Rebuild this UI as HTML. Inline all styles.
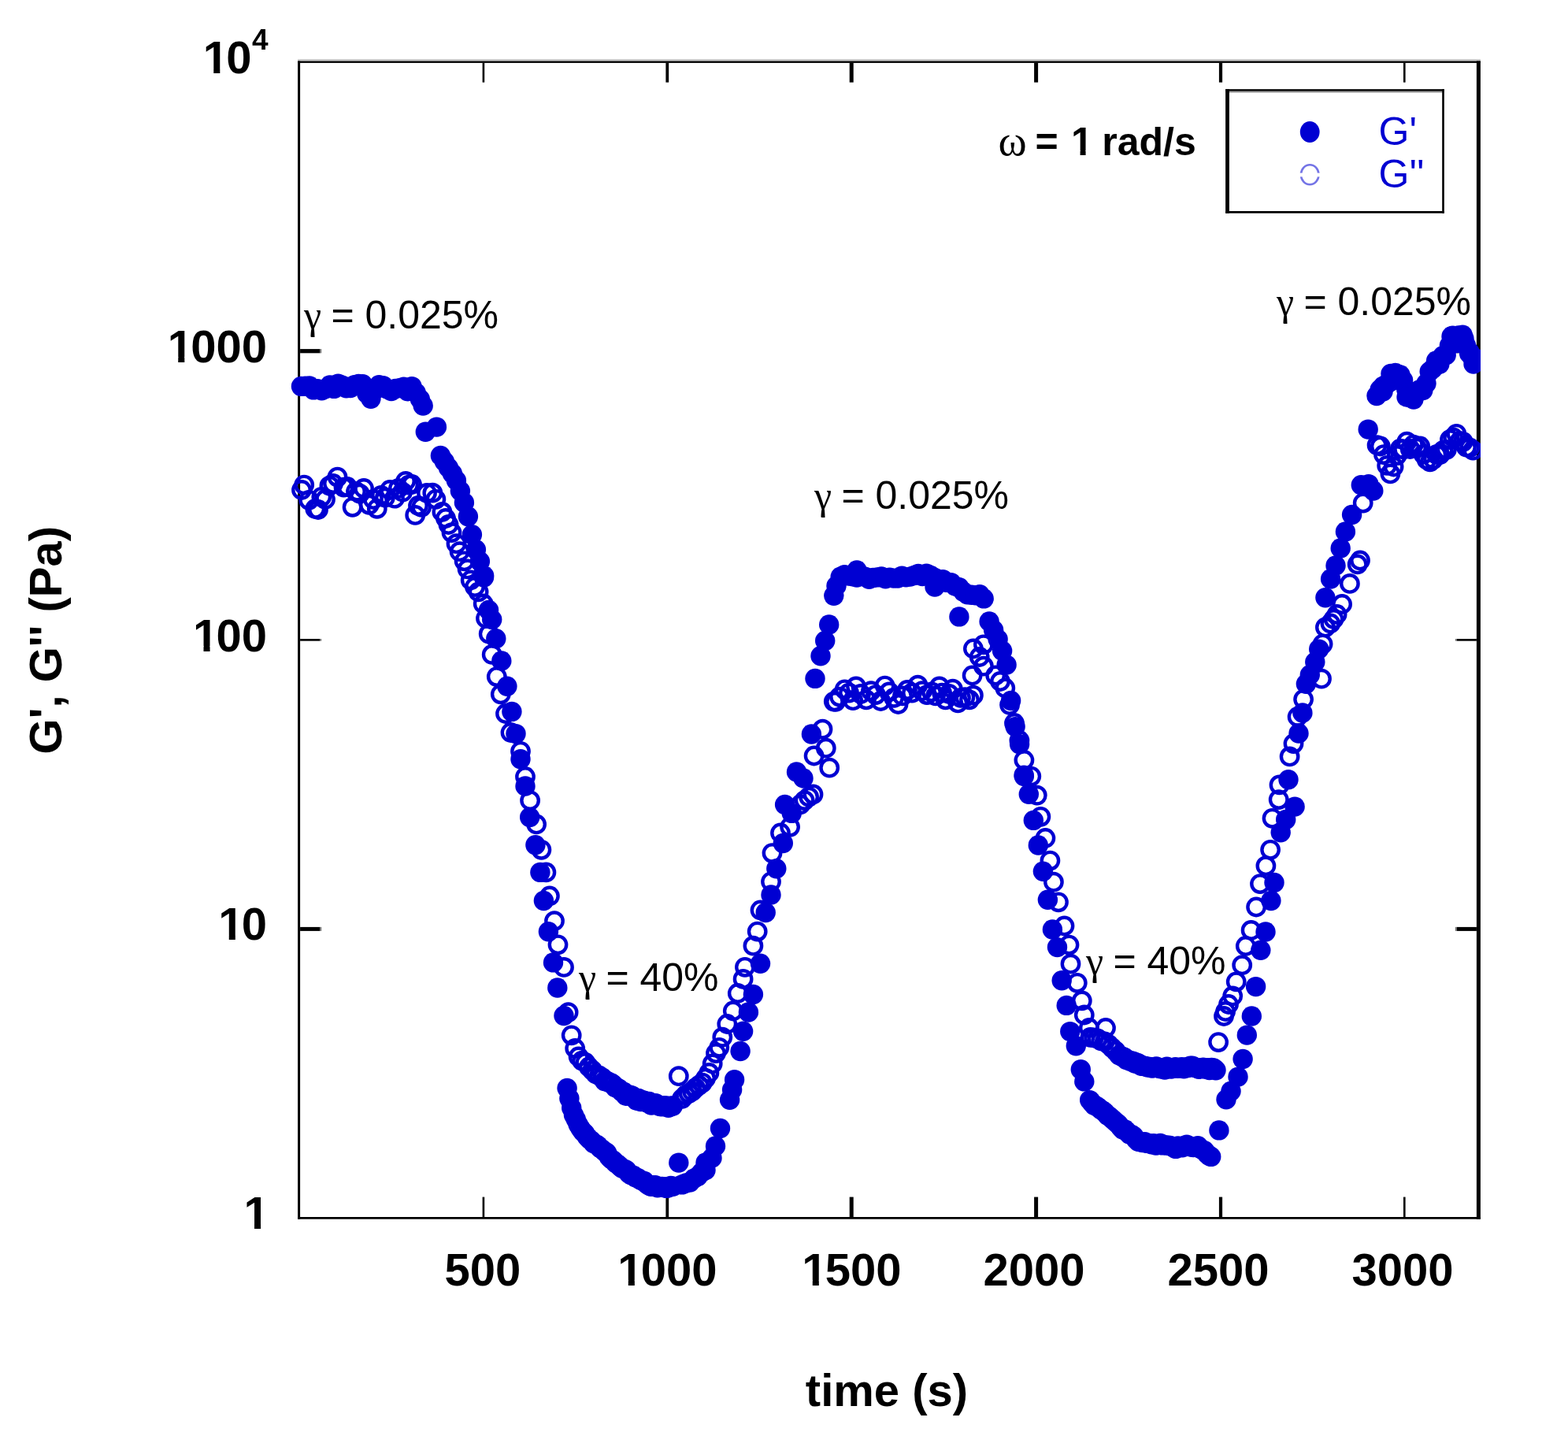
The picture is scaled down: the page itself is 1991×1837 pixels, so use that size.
<!DOCTYPE html>
<html lang="en"><head><meta charset="utf-8"><title>G', G'' (Pa) - time (s)</title>
<style>
html,body{margin:0;padding:0;background:#fff;}
body{width:1991px;height:1837px;overflow:hidden;}
svg{display:block;}
text{white-space:pre;}
.b{font-family:"Liberation Sans",sans-serif;font-weight:bold;font-size:58px;fill:#000;}
.b2{font-family:"Liberation Sans",sans-serif;font-weight:bold;font-size:50px;fill:#000;}
.r{font-family:"Liberation Sans",sans-serif;font-weight:normal;font-size:50px;fill:#000;}
.g{font-family:"Liberation Serif",serif;font-weight:normal;font-size:50px;fill:#000;}
.lg{font-family:"Liberation Sans",sans-serif;font-weight:normal;font-size:50px;fill:#0000d2;}
</style></head><body>
<svg width="1991" height="1837" viewBox="0 0 1991 1837">
<rect x="0" y="0" width="1991" height="1837" fill="#fff"/>
<g id="frame">
<rect x="378.10" y="75.10" width="1501.80" height="2.40" fill="#c8c8c8"/>
<rect x="378.10" y="77.50" width="1501.80" height="2.40" fill="#000"/>
<rect x="378.10" y="1545.00" width="1501.80" height="2.70" fill="#000"/>
<rect x="378.10" y="77.50" width="3.00" height="1470.20" fill="#000"/>
<rect x="1874.90" y="77.50" width="5.00" height="1470.20" fill="#000"/>
<rect x="612.60" y="79.90" width="2.60" height="24.70" fill="#000"/>
<rect x="612.60" y="1519.60" width="2.60" height="25.40" fill="#000"/>
<rect x="845.40" y="79.90" width="3.80" height="24.70" fill="#000"/>
<rect x="845.40" y="1519.60" width="3.80" height="25.40" fill="#000"/>
<rect x="1078.70" y="79.90" width="5.00" height="24.70" fill="#000"/>
<rect x="1078.70" y="1519.60" width="5.00" height="25.40" fill="#000"/>
<rect x="1313.10" y="79.90" width="5.00" height="24.70" fill="#000"/>
<rect x="1313.10" y="1519.60" width="5.00" height="25.40" fill="#000"/>
<rect x="1547.90" y="79.90" width="4.20" height="24.70" fill="#000"/>
<rect x="1547.90" y="1519.60" width="4.20" height="25.40" fill="#000"/>
<rect x="1782.00" y="79.90" width="2.60" height="24.70" fill="#000"/>
<rect x="1782.00" y="1519.60" width="2.60" height="25.40" fill="#000"/>
<rect x="381.10" y="443.10" width="25.40" height="5.20" fill="#000"/>
<rect x="406.50" y="443.10" width="1.70" height="5.20" fill="#777"/>
<rect x="1849.50" y="443.10" width="25.40" height="5.20" fill="#000"/>
<rect x="1847.80" y="443.10" width="1.70" height="5.20" fill="#777"/>
<rect x="381.10" y="811.10" width="25.40" height="2.60" fill="#000"/>
<rect x="406.50" y="811.10" width="1.70" height="2.60" fill="#777"/>
<rect x="1849.50" y="811.10" width="25.40" height="2.60" fill="#000"/>
<rect x="1847.80" y="811.10" width="1.70" height="2.60" fill="#777"/>
<rect x="381.10" y="1176.90" width="25.40" height="5.00" fill="#000"/>
<rect x="406.50" y="1176.90" width="1.70" height="5.00" fill="#777"/>
<rect x="1849.50" y="1176.90" width="25.40" height="5.00" fill="#000"/>
<rect x="1847.80" y="1176.90" width="1.70" height="5.00" fill="#777"/>
</g>
<g id="legend">
<rect x="1556.10" y="113.20" width="277.70" height="2.60" fill="#000"/>
<rect x="1556.10" y="115.80" width="277.70" height="1.80" fill="#999"/>
<rect x="1556.10" y="268.00" width="277.70" height="2.70" fill="#000"/>
<rect x="1556.10" y="113.20" width="4.80" height="157.50" fill="#000"/>
<rect x="1831.20" y="113.20" width="2.60" height="157.50" fill="#000"/>
<ellipse cx="1663.2" cy="167.5" rx="12.4" ry="13.4" fill="#0000d2"/>
<ellipse cx="1663.2" cy="221.8" rx="11.3" ry="12.5" fill="none" stroke="#7474e6" stroke-width="2.6"/>
<rect x="1649.50" y="219.60" width="5.00" height="4.80" fill="#fff"/>
<rect x="1672.00" y="219.60" width="5.00" height="4.80" fill="#fff"/>
<text class="lg" x="1750.5" y="184">G'</text>
<text class="lg" x="1750.5" y="238">G''</text>
</g>
<defs><clipPath id="pc"><rect x="360" y="60" width="1519.9" height="1500"/></clipPath></defs>
<g clip-path="url(#pc)">
<g id="gpp" fill="none" stroke="#0000d2" stroke-width="4.4">
<circle cx="383.0" cy="622.0" r="10.7"/>
<circle cx="386.2" cy="615.6" r="10.7"/>
<circle cx="392.2" cy="634.8" r="10.7"/>
<circle cx="400.3" cy="645.9" r="10.7"/>
<circle cx="404.0" cy="647.0" r="10.7"/>
<circle cx="408.3" cy="630.8" r="10.7"/>
<circle cx="413.0" cy="634.0" r="10.7"/>
<circle cx="418.4" cy="616.7" r="10.7"/>
<circle cx="423.0" cy="614.0" r="10.7"/>
<circle cx="428.5" cy="605.6" r="10.7"/>
<circle cx="436.5" cy="618.6" r="10.7"/>
<circle cx="441.0" cy="618.0" r="10.7"/>
<circle cx="447.6" cy="643.8" r="10.7"/>
<circle cx="452.0" cy="624.0" r="10.7"/>
<circle cx="456.7" cy="626.7" r="10.7"/>
<circle cx="462.0" cy="620.0" r="10.7"/>
<circle cx="468.8" cy="640.8" r="10.7"/>
<circle cx="474.0" cy="634.0" r="10.7"/>
<circle cx="478.8" cy="645.8" r="10.7"/>
<circle cx="484.0" cy="629.0" r="10.7"/>
<circle cx="488.9" cy="631.7" r="10.7"/>
<circle cx="495.0" cy="622.0" r="10.7"/>
<circle cx="501.0" cy="632.7" r="10.7"/>
<circle cx="506.0" cy="620.0" r="10.7"/>
<circle cx="511.1" cy="624.7" r="10.7"/>
<circle cx="515.0" cy="611.0" r="10.7"/>
<circle cx="519.1" cy="615.6" r="10.7"/>
<circle cx="523.0" cy="615.0" r="10.7"/>
<circle cx="527.2" cy="653.9" r="10.7"/>
<circle cx="531.0" cy="642.0" r="10.7"/>
<circle cx="535.2" cy="643.8" r="10.7"/>
<circle cx="542.0" cy="626.0" r="10.7"/>
<circle cx="549.3" cy="625.7" r="10.7"/>
<circle cx="553.4" cy="633.8" r="10.7"/>
<circle cx="561.4" cy="649.9" r="10.7"/>
<circle cx="566.0" cy="658.0" r="10.7"/>
<circle cx="569.5" cy="666.0" r="10.7"/>
<circle cx="573.5" cy="676.1" r="10.7"/>
<circle cx="579.5" cy="690.2" r="10.7"/>
<circle cx="583.6" cy="700.2" r="10.7"/>
<circle cx="589.6" cy="712.3" r="10.7"/>
<circle cx="593.6" cy="722.4" r="10.7"/>
<circle cx="597.7" cy="736.5" r="10.7"/>
<circle cx="603.0" cy="745.0" r="10.7"/>
<circle cx="607.6" cy="751.4" r="10.7"/>
<circle cx="613.7" cy="766.5" r="10.7"/>
<circle cx="617.0" cy="785.0" r="10.7"/>
<circle cx="620.7" cy="804.7" r="10.7"/>
<circle cx="624.7" cy="830.9" r="10.7"/>
<circle cx="630.8" cy="859.1" r="10.7"/>
<circle cx="635.8" cy="881.3" r="10.7"/>
<circle cx="642.0" cy="906.0" r="10.7"/>
<circle cx="648.5" cy="930.0" r="10.7"/>
<circle cx="661.0" cy="953.8" r="10.7"/>
<circle cx="667.0" cy="986.0" r="10.7"/>
<circle cx="673.1" cy="1016.2" r="10.7"/>
<circle cx="681.1" cy="1046.4" r="10.7"/>
<circle cx="687.4" cy="1078.8" r="10.7"/>
<circle cx="693.4" cy="1107.4" r="10.7"/>
<circle cx="697.9" cy="1137.5" r="10.7"/>
<circle cx="704.0" cy="1169.2" r="10.7"/>
<circle cx="708.5" cy="1199.3" r="10.7"/>
<circle cx="716.0" cy="1227.9" r="10.7"/>
<circle cx="721.6" cy="1285.2" r="10.7"/>
<circle cx="725.7" cy="1314.3" r="10.7"/>
<circle cx="730.2" cy="1331.0" r="10.7"/>
<circle cx="734.6" cy="1341.5" r="10.7"/>
<circle cx="739.0" cy="1346.6" r="10.7"/>
<circle cx="743.4" cy="1349.0" r="10.7"/>
<circle cx="747.8" cy="1354.5" r="10.7"/>
<circle cx="752.2" cy="1358.9" r="10.7"/>
<circle cx="756.6" cy="1363.4" r="10.7"/>
<circle cx="761.0" cy="1365.5" r="10.7"/>
<circle cx="765.0" cy="1368.3" r="10.7"/>
<circle cx="767.7" cy="1372.3" r="10.7"/>
<circle cx="770.4" cy="1372.3" r="10.7"/>
<circle cx="773.1" cy="1374.2" r="10.7"/>
<circle cx="775.8" cy="1374.8" r="10.7"/>
<circle cx="778.5" cy="1376.8" r="10.7"/>
<circle cx="781.2" cy="1380.3" r="10.7"/>
<circle cx="783.9" cy="1381.2" r="10.7"/>
<circle cx="786.6" cy="1383.0" r="10.7"/>
<circle cx="789.3" cy="1385.7" r="10.7"/>
<circle cx="792.0" cy="1386.4" r="10.7"/>
<circle cx="794.7" cy="1391.0" r="10.7"/>
<circle cx="797.4" cy="1390.9" r="10.7"/>
<circle cx="800.1" cy="1390.5" r="10.7"/>
<circle cx="802.8" cy="1391.5" r="10.7"/>
<circle cx="805.5" cy="1393.7" r="10.7"/>
<circle cx="808.2" cy="1397.0" r="10.7"/>
<circle cx="810.9" cy="1394.7" r="10.7"/>
<circle cx="813.6" cy="1398.3" r="10.7"/>
<circle cx="816.3" cy="1397.0" r="10.7"/>
<circle cx="819.0" cy="1398.0" r="10.7"/>
<circle cx="821.7" cy="1399.8" r="10.7"/>
<circle cx="824.4" cy="1398.7" r="10.7"/>
<circle cx="827.1" cy="1402.8" r="10.7"/>
<circle cx="829.8" cy="1401.5" r="10.7"/>
<circle cx="832.5" cy="1400.9" r="10.7"/>
<circle cx="835.2" cy="1402.9" r="10.7"/>
<circle cx="837.9" cy="1404.4" r="10.7"/>
<circle cx="840.6" cy="1404.6" r="10.7"/>
<circle cx="843.3" cy="1403.9" r="10.7"/>
<circle cx="846.0" cy="1404.2" r="10.7"/>
<circle cx="848.7" cy="1406.1" r="10.7"/>
<circle cx="851.4" cy="1404.3" r="10.7"/>
<circle cx="854.1" cy="1404.1" r="10.7"/>
<circle cx="861.8" cy="1366.2" r="10.7"/>
<circle cx="866.0" cy="1394.9" r="10.7"/>
<circle cx="870.3" cy="1390.5" r="10.7"/>
<circle cx="874.6" cy="1388.1" r="10.7"/>
<circle cx="878.9" cy="1385.5" r="10.7"/>
<circle cx="883.2" cy="1381.1" r="10.7"/>
<circle cx="887.5" cy="1377.9" r="10.7"/>
<circle cx="891.8" cy="1374.6" r="10.7"/>
<circle cx="896.1" cy="1368.8" r="10.7"/>
<circle cx="900.4" cy="1361.9" r="10.7"/>
<circle cx="904.7" cy="1350.4" r="10.7"/>
<circle cx="909.0" cy="1337.1" r="10.7"/>
<circle cx="913.3" cy="1329.8" r="10.7"/>
<circle cx="917.3" cy="1316.7" r="10.7"/>
<circle cx="923.3" cy="1300.0" r="10.7"/>
<circle cx="930.8" cy="1283.5" r="10.7"/>
<circle cx="936.8" cy="1261.0" r="10.7"/>
<circle cx="943.6" cy="1242.9" r="10.7"/>
<circle cx="945.9" cy="1227.8" r="10.7"/>
<circle cx="956.4" cy="1200.7" r="10.7"/>
<circle cx="961.7" cy="1182.6" r="10.7"/>
<circle cx="965.5" cy="1155.5" r="10.7"/>
<circle cx="979.0" cy="1119.3" r="10.7"/>
<circle cx="980.5" cy="1083.1" r="10.7"/>
<circle cx="991.0" cy="1057.5" r="10.7"/>
<circle cx="1003.1" cy="1049.8" r="10.7"/>
<circle cx="1016.2" cy="1021.5" r="10.7"/>
<circle cx="1021.6" cy="1016.1" r="10.7"/>
<circle cx="1027.1" cy="1011.7" r="10.7"/>
<circle cx="1032.5" cy="1008.4" r="10.7"/>
<circle cx="1033.6" cy="959.5" r="10.7"/>
<circle cx="1053.2" cy="974.7" r="10.7"/>
<circle cx="1048.8" cy="949.7" r="10.7"/>
<circle cx="1044.5" cy="925.7" r="10.7"/>
<circle cx="1058.8" cy="890.6" r="10.7"/>
<circle cx="1061.0" cy="890.8" r="10.7"/>
<circle cx="1066.0" cy="884.6" r="10.7"/>
<circle cx="1072.6" cy="875.3" r="10.7"/>
<circle cx="1078.0" cy="879.6" r="10.7"/>
<circle cx="1083.1" cy="889.2" r="10.7"/>
<circle cx="1087.0" cy="871.4" r="10.7"/>
<circle cx="1093.0" cy="880.9" r="10.7"/>
<circle cx="1100.0" cy="888.3" r="10.7"/>
<circle cx="1106.0" cy="877.2" r="10.7"/>
<circle cx="1112.0" cy="882.1" r="10.7"/>
<circle cx="1118.3" cy="890.0" r="10.7"/>
<circle cx="1123.6" cy="870.6" r="10.7"/>
<circle cx="1129.0" cy="878.4" r="10.7"/>
<circle cx="1135.0" cy="885.8" r="10.7"/>
<circle cx="1140.5" cy="894.0" r="10.7"/>
<circle cx="1146.0" cy="883.4" r="10.7"/>
<circle cx="1152.0" cy="875.9" r="10.7"/>
<circle cx="1158.0" cy="879.6" r="10.7"/>
<circle cx="1165.4" cy="869.7" r="10.7"/>
<circle cx="1171.0" cy="877.2" r="10.7"/>
<circle cx="1177.0" cy="882.1" r="10.7"/>
<circle cx="1183.0" cy="878.4" r="10.7"/>
<circle cx="1188.0" cy="883.4" r="10.7"/>
<circle cx="1192.8" cy="871.4" r="10.7"/>
<circle cx="1196.0" cy="879.6" r="10.7"/>
<circle cx="1200.6" cy="888.3" r="10.7"/>
<circle cx="1205.0" cy="880.9" r="10.7"/>
<circle cx="1209.8" cy="874.7" r="10.7"/>
<circle cx="1216.3" cy="892.4" r="10.7"/>
<circle cx="1220.0" cy="885.8" r="10.7"/>
<circle cx="1225.4" cy="885.2" r="10.7"/>
<circle cx="1231.0" cy="888.3" r="10.7"/>
<circle cx="1235.9" cy="882.7" r="10.7"/>
<circle cx="1234.6" cy="857.5" r="10.7"/>
<circle cx="1235.9" cy="823.5" r="10.7"/>
<circle cx="1248.9" cy="818.3" r="10.7"/>
<circle cx="1243.7" cy="834.0" r="10.7"/>
<circle cx="1248.9" cy="845.7" r="10.7"/>
<circle cx="1264.2" cy="857.4" r="10.7"/>
<circle cx="1270.0" cy="865.0" r="10.7"/>
<circle cx="1276.3" cy="873.5" r="10.7"/>
<circle cx="1282.0" cy="895.0" r="10.7"/>
<circle cx="1288.0" cy="918.0" r="10.7"/>
<circle cx="1294.4" cy="940.0" r="10.7"/>
<circle cx="1300.4" cy="965.0" r="10.7"/>
<circle cx="1309.3" cy="985.6" r="10.7"/>
<circle cx="1316.8" cy="1009.7" r="10.7"/>
<circle cx="1321.4" cy="1036.8" r="10.7"/>
<circle cx="1327.4" cy="1064.0" r="10.7"/>
<circle cx="1333.4" cy="1092.6" r="10.7"/>
<circle cx="1337.9" cy="1119.7" r="10.7"/>
<circle cx="1344.0" cy="1145.3" r="10.7"/>
<circle cx="1351.5" cy="1175.5" r="10.7"/>
<circle cx="1357.5" cy="1199.6" r="10.7"/>
<circle cx="1359.5" cy="1223.7" r="10.7"/>
<circle cx="1367.8" cy="1247.8" r="10.7"/>
<circle cx="1373.8" cy="1270.4" r="10.7"/>
<circle cx="1376.8" cy="1288.5" r="10.7"/>
<circle cx="1382.9" cy="1305.0" r="10.7"/>
<circle cx="1404.0" cy="1305.0" r="10.7"/>
<circle cx="1384.4" cy="1316.9" r="10.7"/>
<circle cx="1389.0" cy="1317.5" r="10.7"/>
<circle cx="1393.6" cy="1318.4" r="10.7"/>
<circle cx="1398.2" cy="1321.3" r="10.7"/>
<circle cx="1402.8" cy="1322.5" r="10.7"/>
<circle cx="1407.4" cy="1325.7" r="10.7"/>
<circle cx="1412.0" cy="1330.1" r="10.7"/>
<circle cx="1416.6" cy="1334.3" r="10.7"/>
<circle cx="1421.2" cy="1339.7" r="10.7"/>
<circle cx="1425.0" cy="1341.5" r="10.7"/>
<circle cx="1427.7" cy="1342.6" r="10.7"/>
<circle cx="1430.4" cy="1345.3" r="10.7"/>
<circle cx="1433.1" cy="1345.8" r="10.7"/>
<circle cx="1435.8" cy="1347.3" r="10.7"/>
<circle cx="1438.5" cy="1347.4" r="10.7"/>
<circle cx="1441.2" cy="1350.0" r="10.7"/>
<circle cx="1443.9" cy="1349.4" r="10.7"/>
<circle cx="1446.6" cy="1350.9" r="10.7"/>
<circle cx="1449.3" cy="1353.1" r="10.7"/>
<circle cx="1452.0" cy="1353.4" r="10.7"/>
<circle cx="1454.7" cy="1353.6" r="10.7"/>
<circle cx="1457.4" cy="1354.8" r="10.7"/>
<circle cx="1460.1" cy="1354.7" r="10.7"/>
<circle cx="1462.8" cy="1355.9" r="10.7"/>
<circle cx="1465.5" cy="1355.3" r="10.7"/>
<circle cx="1468.2" cy="1354.1" r="10.7"/>
<circle cx="1470.9" cy="1356.0" r="10.7"/>
<circle cx="1473.6" cy="1356.6" r="10.7"/>
<circle cx="1476.3" cy="1356.3" r="10.7"/>
<circle cx="1479.0" cy="1357.8" r="10.7"/>
<circle cx="1481.7" cy="1354.5" r="10.7"/>
<circle cx="1484.4" cy="1355.7" r="10.7"/>
<circle cx="1487.1" cy="1356.8" r="10.7"/>
<circle cx="1489.8" cy="1356.0" r="10.7"/>
<circle cx="1492.5" cy="1355.0" r="10.7"/>
<circle cx="1495.2" cy="1356.2" r="10.7"/>
<circle cx="1497.9" cy="1355.6" r="10.7"/>
<circle cx="1500.6" cy="1354.9" r="10.7"/>
<circle cx="1503.3" cy="1356.7" r="10.7"/>
<circle cx="1506.0" cy="1355.2" r="10.7"/>
<circle cx="1508.7" cy="1355.4" r="10.7"/>
<circle cx="1511.4" cy="1353.4" r="10.7"/>
<circle cx="1514.1" cy="1353.3" r="10.7"/>
<circle cx="1516.8" cy="1355.2" r="10.7"/>
<circle cx="1519.5" cy="1355.6" r="10.7"/>
<circle cx="1522.2" cy="1357.1" r="10.7"/>
<circle cx="1524.9" cy="1355.8" r="10.7"/>
<circle cx="1527.6" cy="1355.3" r="10.7"/>
<circle cx="1530.3" cy="1356.9" r="10.7"/>
<circle cx="1533.0" cy="1356.0" r="10.7"/>
<circle cx="1535.7" cy="1358.4" r="10.7"/>
<circle cx="1538.4" cy="1355.6" r="10.7"/>
<circle cx="1541.1" cy="1356.2" r="10.7"/>
<circle cx="1543.8" cy="1358.6" r="10.7"/>
<circle cx="1547.1" cy="1323.1" r="10.7"/>
<circle cx="1554.0" cy="1290.0" r="10.7"/>
<circle cx="1556.1" cy="1284.0" r="10.7"/>
<circle cx="1560.0" cy="1275.0" r="10.7"/>
<circle cx="1565.2" cy="1264.4" r="10.7"/>
<circle cx="1569.7" cy="1246.3" r="10.7"/>
<circle cx="1577.2" cy="1225.2" r="10.7"/>
<circle cx="1581.8" cy="1201.0" r="10.7"/>
<circle cx="1588.6" cy="1180.9" r="10.7"/>
<circle cx="1595.1" cy="1151.5" r="10.7"/>
<circle cx="1600.0" cy="1122.1" r="10.7"/>
<circle cx="1607.4" cy="1099.2" r="10.7"/>
<circle cx="1613.1" cy="1078.8" r="10.7"/>
<circle cx="1615.5" cy="1038.8" r="10.7"/>
<circle cx="1623.7" cy="1015.1" r="10.7"/>
<circle cx="1624.5" cy="996.4" r="10.7"/>
<circle cx="1637.6" cy="960.4" r="10.7"/>
<circle cx="1642.5" cy="944.1" r="10.7"/>
<circle cx="1647.6" cy="910.0" r="10.7"/>
<circle cx="1655.1" cy="887.8" r="10.7"/>
<circle cx="1678.0" cy="861.7" r="10.7"/>
<circle cx="1679.6" cy="817.6" r="10.7"/>
<circle cx="1682.9" cy="796.4" r="10.7"/>
<circle cx="1689.4" cy="791.5" r="10.7"/>
<circle cx="1693.5" cy="786.0" r="10.7"/>
<circle cx="1697.6" cy="780.0" r="10.7"/>
<circle cx="1704.1" cy="767.0" r="10.7"/>
<circle cx="1713.9" cy="740.9" r="10.7"/>
<circle cx="1723.7" cy="716.4" r="10.7"/>
<circle cx="1727.0" cy="711.5" r="10.7"/>
<circle cx="1730.7" cy="638.6" r="10.7"/>
<circle cx="1748.6" cy="565.2" r="10.7"/>
<circle cx="1752.8" cy="566.5" r="10.7"/>
<circle cx="1757.0" cy="577.1" r="10.7"/>
<circle cx="1761.2" cy="590.9" r="10.7"/>
<circle cx="1765.4" cy="601.4" r="10.7"/>
<circle cx="1769.6" cy="592.5" r="10.7"/>
<circle cx="1773.8" cy="578.1" r="10.7"/>
<circle cx="1778.0" cy="569.6" r="10.7"/>
<circle cx="1782.2" cy="570.3" r="10.7"/>
<circle cx="1786.4" cy="560.7" r="10.7"/>
<circle cx="1790.6" cy="570.0" r="10.7"/>
<circle cx="1794.8" cy="564.6" r="10.7"/>
<circle cx="1799.0" cy="568.7" r="10.7"/>
<circle cx="1803.2" cy="566.5" r="10.7"/>
<circle cx="1807.4" cy="576.6" r="10.7"/>
<circle cx="1811.6" cy="583.4" r="10.7"/>
<circle cx="1815.8" cy="586.3" r="10.7"/>
<circle cx="1820.0" cy="583.1" r="10.7"/>
<circle cx="1824.2" cy="576.9" r="10.7"/>
<circle cx="1828.4" cy="577.2" r="10.7"/>
<circle cx="1832.6" cy="571.7" r="10.7"/>
<circle cx="1836.8" cy="571.0" r="10.7"/>
<circle cx="1841.0" cy="558.1" r="10.7"/>
<circle cx="1845.2" cy="555.3" r="10.7"/>
<circle cx="1849.4" cy="550.8" r="10.7"/>
<circle cx="1853.6" cy="559.8" r="10.7"/>
<circle cx="1857.8" cy="560.8" r="10.7"/>
<circle cx="1862.0" cy="567.7" r="10.7"/>
<circle cx="1866.2" cy="568.4" r="10.7"/>
<circle cx="1870.4" cy="571.7" r="10.7"/>
</g>
<g id="gp" fill="#0000d2" stroke="none">
<circle cx="382.5" cy="490.4" r="12.7"/>
<circle cx="387.7" cy="490.3" r="12.7"/>
<circle cx="392.9" cy="490.0" r="12.7"/>
<circle cx="398.1" cy="494.9" r="12.7"/>
<circle cx="403.3" cy="493.6" r="12.7"/>
<circle cx="408.5" cy="495.8" r="12.7"/>
<circle cx="413.7" cy="493.6" r="12.7"/>
<circle cx="418.9" cy="489.0" r="12.7"/>
<circle cx="424.1" cy="493.4" r="12.7"/>
<circle cx="429.3" cy="487.3" r="12.7"/>
<circle cx="434.5" cy="489.1" r="12.7"/>
<circle cx="439.7" cy="492.8" r="12.7"/>
<circle cx="444.9" cy="492.6" r="12.7"/>
<circle cx="450.1" cy="488.7" r="12.7"/>
<circle cx="455.3" cy="487.5" r="12.7"/>
<circle cx="460.5" cy="487.8" r="12.7"/>
<circle cx="465.7" cy="499.4" r="12.7"/>
<circle cx="470.9" cy="506.2" r="12.7"/>
<circle cx="476.1" cy="494.8" r="12.7"/>
<circle cx="481.3" cy="488.7" r="12.7"/>
<circle cx="486.5" cy="489.6" r="12.7"/>
<circle cx="491.7" cy="493.9" r="12.7"/>
<circle cx="496.9" cy="496.6" r="12.7"/>
<circle cx="502.1" cy="493.5" r="12.7"/>
<circle cx="507.3" cy="492.6" r="12.7"/>
<circle cx="512.5" cy="491.3" r="12.7"/>
<circle cx="517.7" cy="496.8" r="12.7"/>
<circle cx="522.9" cy="490.6" r="12.7"/>
<circle cx="528.1" cy="498.6" r="12.7"/>
<circle cx="533.3" cy="506.7" r="12.7"/>
<circle cx="537.2" cy="515.0" r="12.7"/>
<circle cx="540.3" cy="548.2" r="12.7"/>
<circle cx="554.4" cy="542.1" r="12.7"/>
<circle cx="559.4" cy="578.4" r="12.7"/>
<circle cx="564.4" cy="586.0" r="12.7"/>
<circle cx="569.4" cy="593.7" r="12.7"/>
<circle cx="574.4" cy="601.3" r="12.7"/>
<circle cx="579.4" cy="610.0" r="12.7"/>
<circle cx="584.4" cy="623.3" r="12.7"/>
<circle cx="589.4" cy="638.1" r="12.7"/>
<circle cx="594.4" cy="655.8" r="12.7"/>
<circle cx="599.4" cy="678.7" r="12.7"/>
<circle cx="604.4" cy="697.7" r="12.7"/>
<circle cx="609.4" cy="712.8" r="12.7"/>
<circle cx="614.4" cy="732.9" r="12.7"/>
<circle cx="614.7" cy="731.0" r="12.7"/>
<circle cx="620.5" cy="774.5" r="12.7"/>
<circle cx="624.7" cy="786.6" r="12.7"/>
<circle cx="629.8" cy="810.8" r="12.7"/>
<circle cx="636.8" cy="839.0" r="12.7"/>
<circle cx="643.9" cy="871.2" r="12.7"/>
<circle cx="649.9" cy="903.4" r="12.7"/>
<circle cx="655.0" cy="931.6" r="12.7"/>
<circle cx="661.0" cy="963.8" r="12.7"/>
<circle cx="667.0" cy="998.0" r="12.7"/>
<circle cx="672.7" cy="1037.5" r="12.7"/>
<circle cx="679.9" cy="1072.7" r="12.7"/>
<circle cx="685.9" cy="1107.4" r="12.7"/>
<circle cx="690.4" cy="1143.5" r="12.7"/>
<circle cx="696.4" cy="1182.7" r="12.7"/>
<circle cx="702.5" cy="1221.9" r="12.7"/>
<circle cx="707.8" cy="1254.0" r="12.7"/>
<circle cx="716.0" cy="1289.5" r="12.7"/>
<circle cx="720.1" cy="1381.4" r="12.7"/>
<circle cx="722.9" cy="1394.4" r="12.7"/>
<circle cx="725.7" cy="1406.4" r="12.7"/>
<circle cx="728.5" cy="1415.6" r="12.7"/>
<circle cx="731.3" cy="1420.9" r="12.7"/>
<circle cx="734.1" cy="1427.4" r="12.7"/>
<circle cx="736.9" cy="1432.2" r="12.7"/>
<circle cx="739.7" cy="1436.3" r="12.7"/>
<circle cx="742.5" cy="1438.8" r="12.7"/>
<circle cx="745.3" cy="1443.0" r="12.7"/>
<circle cx="748.1" cy="1446.0" r="12.7"/>
<circle cx="750.9" cy="1448.1" r="12.7"/>
<circle cx="753.7" cy="1451.5" r="12.7"/>
<circle cx="756.5" cy="1452.6" r="12.7"/>
<circle cx="759.3" cy="1454.2" r="12.7"/>
<circle cx="762.1" cy="1457.6" r="12.7"/>
<circle cx="764.9" cy="1459.4" r="12.7"/>
<circle cx="767.7" cy="1461.9" r="12.7"/>
<circle cx="770.5" cy="1463.4" r="12.7"/>
<circle cx="773.3" cy="1468.7" r="12.7"/>
<circle cx="776.1" cy="1471.6" r="12.7"/>
<circle cx="778.9" cy="1473.5" r="12.7"/>
<circle cx="781.7" cy="1476.5" r="12.7"/>
<circle cx="784.5" cy="1478.3" r="12.7"/>
<circle cx="787.3" cy="1480.9" r="12.7"/>
<circle cx="790.1" cy="1483.3" r="12.7"/>
<circle cx="792.9" cy="1484.1" r="12.7"/>
<circle cx="795.7" cy="1485.8" r="12.7"/>
<circle cx="798.5" cy="1489.8" r="12.7"/>
<circle cx="801.3" cy="1491.7" r="12.7"/>
<circle cx="804.1" cy="1492.3" r="12.7"/>
<circle cx="806.9" cy="1494.8" r="12.7"/>
<circle cx="809.7" cy="1495.5" r="12.7"/>
<circle cx="812.5" cy="1497.4" r="12.7"/>
<circle cx="815.3" cy="1499.0" r="12.7"/>
<circle cx="818.1" cy="1499.5" r="12.7"/>
<circle cx="820.9" cy="1502.8" r="12.7"/>
<circle cx="823.7" cy="1504.8" r="12.7"/>
<circle cx="826.5" cy="1506.3" r="12.7"/>
<circle cx="829.3" cy="1504.8" r="12.7"/>
<circle cx="832.1" cy="1504.7" r="12.7"/>
<circle cx="834.9" cy="1507.7" r="12.7"/>
<circle cx="837.7" cy="1507.1" r="12.7"/>
<circle cx="840.5" cy="1506.5" r="12.7"/>
<circle cx="843.3" cy="1506.7" r="12.7"/>
<circle cx="846.1" cy="1508.4" r="12.7"/>
<circle cx="848.9" cy="1507.7" r="12.7"/>
<circle cx="851.7" cy="1505.4" r="12.7"/>
<circle cx="854.5" cy="1506.2" r="12.7"/>
<circle cx="861.8" cy="1476.1" r="12.7"/>
<circle cx="866.0" cy="1503.9" r="12.7"/>
<circle cx="871.0" cy="1502.0" r="12.7"/>
<circle cx="876.0" cy="1500.9" r="12.7"/>
<circle cx="881.0" cy="1496.3" r="12.7"/>
<circle cx="886.0" cy="1493.5" r="12.7"/>
<circle cx="891.0" cy="1488.3" r="12.7"/>
<circle cx="896.0" cy="1485.4" r="12.7"/>
<circle cx="896.0" cy="1476.0" r="12.7"/>
<circle cx="904.0" cy="1470.0" r="12.7"/>
<circle cx="908.5" cy="1455.0" r="12.7"/>
<circle cx="914.5" cy="1432.5" r="12.7"/>
<circle cx="926.6" cy="1396.3" r="12.7"/>
<circle cx="929.6" cy="1383.5" r="12.7"/>
<circle cx="932.6" cy="1370.7" r="12.7"/>
<circle cx="940.1" cy="1334.5" r="12.7"/>
<circle cx="943.6" cy="1309.2" r="12.7"/>
<circle cx="950.4" cy="1285.0" r="12.7"/>
<circle cx="956.4" cy="1262.4" r="12.7"/>
<circle cx="965.5" cy="1223.3" r="12.7"/>
<circle cx="972.2" cy="1158.5" r="12.7"/>
<circle cx="979.0" cy="1135.9" r="12.7"/>
<circle cx="985.8" cy="1102.7" r="12.7"/>
<circle cx="994.3" cy="1070.5" r="12.7"/>
<circle cx="996.6" cy="1021.5" r="12.7"/>
<circle cx="1005.3" cy="1032.4" r="12.7"/>
<circle cx="1011.5" cy="980.0" r="12.7"/>
<circle cx="1020.0" cy="988.0" r="12.7"/>
<circle cx="1030.4" cy="932.0" r="12.7"/>
<circle cx="1035.0" cy="861.4" r="12.7"/>
<circle cx="1042.0" cy="832.8" r="12.7"/>
<circle cx="1047.7" cy="813.5" r="12.7"/>
<circle cx="1052.7" cy="792.9" r="12.7"/>
<circle cx="1058.8" cy="756.3" r="12.7"/>
<circle cx="1062.0" cy="743.8" r="12.7"/>
<circle cx="1067.2" cy="732.3" r="12.7"/>
<circle cx="1072.4" cy="729.6" r="12.7"/>
<circle cx="1077.6" cy="731.0" r="12.7"/>
<circle cx="1082.8" cy="731.8" r="12.7"/>
<circle cx="1088.0" cy="733.0" r="12.7"/>
<circle cx="1093.2" cy="730.7" r="12.7"/>
<circle cx="1098.4" cy="732.2" r="12.7"/>
<circle cx="1103.6" cy="735.2" r="12.7"/>
<circle cx="1108.8" cy="733.4" r="12.7"/>
<circle cx="1114.0" cy="732.9" r="12.7"/>
<circle cx="1119.2" cy="731.9" r="12.7"/>
<circle cx="1124.4" cy="734.7" r="12.7"/>
<circle cx="1129.6" cy="733.3" r="12.7"/>
<circle cx="1134.8" cy="734.1" r="12.7"/>
<circle cx="1140.0" cy="734.1" r="12.7"/>
<circle cx="1145.2" cy="731.1" r="12.7"/>
<circle cx="1150.4" cy="732.7" r="12.7"/>
<circle cx="1155.6" cy="732.1" r="12.7"/>
<circle cx="1160.8" cy="730.5" r="12.7"/>
<circle cx="1166.0" cy="728.5" r="12.7"/>
<circle cx="1171.2" cy="731.6" r="12.7"/>
<circle cx="1176.4" cy="728.3" r="12.7"/>
<circle cx="1181.6" cy="730.4" r="12.7"/>
<circle cx="1186.8" cy="733.4" r="12.7"/>
<circle cx="1192.0" cy="739.3" r="12.7"/>
<circle cx="1197.2" cy="735.6" r="12.7"/>
<circle cx="1202.4" cy="739.4" r="12.7"/>
<circle cx="1207.6" cy="739.6" r="12.7"/>
<circle cx="1212.8" cy="744.1" r="12.7"/>
<circle cx="1218.0" cy="745.8" r="12.7"/>
<circle cx="1223.2" cy="751.3" r="12.7"/>
<circle cx="1228.4" cy="754.7" r="12.7"/>
<circle cx="1233.6" cy="755.3" r="12.7"/>
<circle cx="1238.8" cy="755.7" r="12.7"/>
<circle cx="1244.0" cy="754.7" r="12.7"/>
<circle cx="1249.2" cy="759.9" r="12.7"/>
<circle cx="1217.9" cy="782.9" r="12.7"/>
<circle cx="1187.0" cy="745.0" r="12.7"/>
<circle cx="1088.0" cy="724.0" r="12.7"/>
<circle cx="1256.1" cy="788.9" r="12.7"/>
<circle cx="1261.6" cy="799.8" r="12.7"/>
<circle cx="1267.1" cy="811.4" r="12.7"/>
<circle cx="1272.6" cy="826.2" r="12.7"/>
<circle cx="1278.1" cy="844.1" r="12.7"/>
<circle cx="1283.6" cy="889.5" r="12.7"/>
<circle cx="1289.1" cy="922.6" r="12.7"/>
<circle cx="1294.6" cy="944.8" r="12.7"/>
<circle cx="1300.1" cy="984.1" r="12.7"/>
<circle cx="1300.3" cy="985.6" r="12.7"/>
<circle cx="1306.3" cy="1008.2" r="12.7"/>
<circle cx="1312.3" cy="1041.4" r="12.7"/>
<circle cx="1318.3" cy="1073.0" r="12.7"/>
<circle cx="1324.4" cy="1106.2" r="12.7"/>
<circle cx="1330.4" cy="1142.3" r="12.7"/>
<circle cx="1336.4" cy="1180.0" r="12.7"/>
<circle cx="1342.5" cy="1202.6" r="12.7"/>
<circle cx="1348.2" cy="1244.8" r="12.7"/>
<circle cx="1354.2" cy="1276.4" r="12.7"/>
<circle cx="1358.8" cy="1309.6" r="12.7"/>
<circle cx="1366.3" cy="1327.7" r="12.7"/>
<circle cx="1372.3" cy="1357.8" r="12.7"/>
<circle cx="1376.8" cy="1372.9" r="12.7"/>
<circle cx="1383.7" cy="1396.6" r="12.7"/>
<circle cx="1386.5" cy="1400.0" r="12.7"/>
<circle cx="1389.3" cy="1403.2" r="12.7"/>
<circle cx="1392.1" cy="1404.1" r="12.7"/>
<circle cx="1394.9" cy="1406.1" r="12.7"/>
<circle cx="1397.7" cy="1408.6" r="12.7"/>
<circle cx="1400.5" cy="1410.2" r="12.7"/>
<circle cx="1403.3" cy="1412.4" r="12.7"/>
<circle cx="1406.1" cy="1415.9" r="12.7"/>
<circle cx="1408.9" cy="1417.4" r="12.7"/>
<circle cx="1411.7" cy="1420.1" r="12.7"/>
<circle cx="1414.5" cy="1422.4" r="12.7"/>
<circle cx="1417.3" cy="1425.1" r="12.7"/>
<circle cx="1420.1" cy="1427.3" r="12.7"/>
<circle cx="1422.9" cy="1430.9" r="12.7"/>
<circle cx="1425.7" cy="1434.1" r="12.7"/>
<circle cx="1428.5" cy="1434.0" r="12.7"/>
<circle cx="1431.3" cy="1436.9" r="12.7"/>
<circle cx="1434.1" cy="1440.0" r="12.7"/>
<circle cx="1436.9" cy="1440.5" r="12.7"/>
<circle cx="1439.7" cy="1442.4" r="12.7"/>
<circle cx="1442.5" cy="1446.6" r="12.7"/>
<circle cx="1445.3" cy="1449.3" r="12.7"/>
<circle cx="1448.1" cy="1449.7" r="12.7"/>
<circle cx="1450.9" cy="1450.6" r="12.7"/>
<circle cx="1453.7" cy="1449.8" r="12.7"/>
<circle cx="1456.5" cy="1451.4" r="12.7"/>
<circle cx="1459.3" cy="1451.6" r="12.7"/>
<circle cx="1462.1" cy="1452.7" r="12.7"/>
<circle cx="1464.9" cy="1451.6" r="12.7"/>
<circle cx="1467.7" cy="1454.0" r="12.7"/>
<circle cx="1470.5" cy="1453.5" r="12.7"/>
<circle cx="1473.3" cy="1451.5" r="12.7"/>
<circle cx="1476.1" cy="1453.9" r="12.7"/>
<circle cx="1478.9" cy="1453.6" r="12.7"/>
<circle cx="1481.7" cy="1454.1" r="12.7"/>
<circle cx="1484.5" cy="1454.2" r="12.7"/>
<circle cx="1487.3" cy="1455.0" r="12.7"/>
<circle cx="1490.1" cy="1456.7" r="12.7"/>
<circle cx="1492.9" cy="1458.4" r="12.7"/>
<circle cx="1495.7" cy="1455.0" r="12.7"/>
<circle cx="1498.5" cy="1456.4" r="12.7"/>
<circle cx="1501.3" cy="1456.8" r="12.7"/>
<circle cx="1504.1" cy="1454.4" r="12.7"/>
<circle cx="1506.9" cy="1453.2" r="12.7"/>
<circle cx="1509.7" cy="1455.1" r="12.7"/>
<circle cx="1512.5" cy="1456.1" r="12.7"/>
<circle cx="1515.3" cy="1456.6" r="12.7"/>
<circle cx="1518.1" cy="1456.0" r="12.7"/>
<circle cx="1520.9" cy="1454.6" r="12.7"/>
<circle cx="1523.7" cy="1457.9" r="12.7"/>
<circle cx="1526.5" cy="1459.6" r="12.7"/>
<circle cx="1529.3" cy="1460.8" r="12.7"/>
<circle cx="1532.1" cy="1464.3" r="12.7"/>
<circle cx="1534.9" cy="1467.0" r="12.7"/>
<circle cx="1537.7" cy="1468.4" r="12.7"/>
<circle cx="1547.9" cy="1434.9" r="12.7"/>
<circle cx="1557.0" cy="1395.7" r="12.7"/>
<circle cx="1563.0" cy="1385.2" r="12.7"/>
<circle cx="1572.0" cy="1367.1" r="12.7"/>
<circle cx="1578.1" cy="1344.5" r="12.7"/>
<circle cx="1583.3" cy="1314.1" r="12.7"/>
<circle cx="1589.3" cy="1290.0" r="12.7"/>
<circle cx="1594.6" cy="1252.6" r="12.7"/>
<circle cx="1600.8" cy="1206.2" r="12.7"/>
<circle cx="1607.0" cy="1183.0" r="12.7"/>
<circle cx="1613.9" cy="1143.5" r="12.7"/>
<circle cx="1618.0" cy="1120.5" r="12.7"/>
<circle cx="1626.2" cy="1056.8" r="12.7"/>
<circle cx="1632.7" cy="1040.5" r="12.7"/>
<circle cx="1644.1" cy="1024.1" r="12.7"/>
<circle cx="1636.0" cy="989.8" r="12.7"/>
<circle cx="1649.0" cy="931.0" r="12.7"/>
<circle cx="1653.9" cy="904.9" r="12.7"/>
<circle cx="1658.4" cy="868.2" r="12.7"/>
<circle cx="1663.3" cy="856.8" r="12.7"/>
<circle cx="1669.8" cy="840.5" r="12.7"/>
<circle cx="1674.7" cy="824.1" r="12.7"/>
<circle cx="1682.9" cy="758.8" r="12.7"/>
<circle cx="1689.6" cy="735.0" r="12.7"/>
<circle cx="1696.0" cy="718.0" r="12.7"/>
<circle cx="1702.2" cy="696.0" r="12.7"/>
<circle cx="1708.4" cy="675.0" r="12.7"/>
<circle cx="1716.6" cy="653.5" r="12.7"/>
<circle cx="1728.3" cy="615.8" r="12.7"/>
<circle cx="1737.8" cy="614.6" r="12.7"/>
<circle cx="1743.8" cy="623.0" r="12.7"/>
<circle cx="1737.2" cy="545.1" r="12.7"/>
<circle cx="1748.0" cy="502.5" r="12.7"/>
<circle cx="1752.2" cy="494.5" r="12.7"/>
<circle cx="1756.4" cy="490.1" r="12.7"/>
<circle cx="1760.6" cy="487.7" r="12.7"/>
<circle cx="1764.8" cy="484.8" r="12.7"/>
<circle cx="1769.0" cy="482.7" r="12.7"/>
<circle cx="1773.2" cy="480.1" r="12.7"/>
<circle cx="1777.4" cy="482.6" r="12.7"/>
<circle cx="1781.6" cy="482.8" r="12.7"/>
<circle cx="1785.8" cy="494.5" r="12.7"/>
<circle cx="1790.0" cy="504.3" r="12.7"/>
<circle cx="1794.2" cy="500.2" r="12.7"/>
<circle cx="1798.4" cy="498.4" r="12.7"/>
<circle cx="1802.6" cy="494.7" r="12.7"/>
<circle cx="1806.8" cy="495.5" r="12.7"/>
<circle cx="1811.0" cy="486.7" r="12.7"/>
<circle cx="1815.2" cy="471.7" r="12.7"/>
<circle cx="1819.4" cy="467.9" r="12.7"/>
<circle cx="1823.6" cy="458.0" r="12.7"/>
<circle cx="1827.8" cy="462.3" r="12.7"/>
<circle cx="1832.0" cy="451.8" r="12.7"/>
<circle cx="1836.2" cy="450.8" r="12.7"/>
<circle cx="1840.4" cy="438.8" r="12.7"/>
<circle cx="1844.6" cy="426.1" r="12.7"/>
<circle cx="1848.8" cy="429.2" r="12.7"/>
<circle cx="1853.0" cy="431.4" r="12.7"/>
<circle cx="1857.2" cy="425.2" r="12.7"/>
<circle cx="1861.4" cy="438.4" r="12.7"/>
<circle cx="1865.6" cy="448.7" r="12.7"/>
<circle cx="1869.8" cy="454.3" r="12.7"/>
<circle cx="1874.0" cy="455.2" r="12.7"/>
<circle cx="1756.0" cy="497.0" r="12.7"/>
<circle cx="1766.0" cy="474.5" r="12.7"/>
<circle cx="1772.0" cy="473.5" r="12.7"/>
<circle cx="1778.0" cy="476.0" r="12.7"/>
<circle cx="1786.0" cy="504.0" r="12.7"/>
<circle cx="1795.0" cy="507.0" r="12.7"/>
<circle cx="1843.0" cy="427.0" r="12.7"/>
<circle cx="1850.0" cy="435.5" r="12.7"/>
<circle cx="1852.0" cy="426.0" r="12.7"/>
<circle cx="1859.0" cy="430.0" r="12.7"/>
<circle cx="1866.0" cy="447.0" r="12.7"/>
<circle cx="1871.0" cy="462.0" r="12.7"/>
</g>
</g>
<g id="labels">
<text class="b" y="93.2"><tspan x="257.77">1</tspan><tspan x="287.24">0</tspan><tspan x="320" y="63.2" style="font-size:37px">4</tspan></text>
<text class="b" y="459.70"><tspan x="212.76">1</tspan><tspan x="242.23">000</tspan></text>
<text class="b" y="826.50"><tspan x="245.01">1</tspan><tspan x="274.49">00</tspan></text>
<text class="b" y="1193.00"><tspan x="277.27">1</tspan><tspan x="306.74">0</tspan></text>
<text class="b" y="1560.00"><tspan x="309.53">1</tspan></text>
<text class="b" y="1631.50"><tspan x="564.61">500</tspan></text>
<text class="b" y="1631.50"><tspan x="784.27">1</tspan><tspan x="813.74">000</tspan></text>
<text class="b" y="1631.50"><tspan x="1018.27">1</tspan><tspan x="1047.74">500</tspan></text>
<text class="b" y="1631.50"><tspan x="1248.49">2000</tspan></text>
<text class="b" y="1631.50"><tspan x="1482.49">2500</tspan></text>
<text class="b" y="1631.50"><tspan x="1716.49">3000</tspan></text>
<text class="b" x="1126" y="1784.5" text-anchor="middle">time (s)</text>
<text class="b" transform="translate(77.5 812.7) rotate(-90)" text-anchor="middle">G', G'' (Pa)</text>
</g>
<g id="notes">
<text class="r" y="417.2"><tspan class="g" x="386.0">γ</tspan><tspan class="r" x="406.5"> = 0.025%</tspan></text>
<text class="r" y="646.3"><tspan class="g" x="1034.0">γ</tspan><tspan class="r" x="1054.5"> = 0.025%</tspan></text>
<text class="r" y="400.0"><tspan class="g" x="1621.0">γ</tspan><tspan class="r" x="1641.5"> = 0.025%</tspan></text>
<text class="r" y="1258.0"><tspan class="g" x="735.0">γ</tspan><tspan class="r" x="755.5"> = 40%</tspan></text>
<text class="r" y="1237.0"><tspan class="g" x="1379.0">γ</tspan><tspan class="r" x="1399.5"> = 40%</tspan></text>
<text class="b2" y="197.00" style="font-size:50px"><tspan class="g" x="1267.5" style="font-size:55px;font-weight:normal">ω</tspan><tspan x="1300.60"> = </tspan><tspan x="1359.98">1</tspan><tspan x="1385.39"> rad/s</tspan></text>
</g>
<g id="trim" fill="#fff">
<rect x="261.00" y="87.00" width="10.26" height="7.00"/>
<rect x="279.32" y="87.00" width="9.68" height="7.00"/>
<rect x="216.00" y="453.00" width="10.24" height="7.00"/>
<rect x="234.30" y="453.00" width="9.70" height="7.00"/>
<rect x="248.00" y="820.00" width="10.50" height="7.00"/>
<rect x="266.56" y="820.00" width="9.44" height="7.00"/>
<rect x="280.00" y="1187.00" width="10.76" height="7.00"/>
<rect x="298.82" y="1187.00" width="10.18" height="7.00"/>
<rect x="312.00" y="1554.00" width="11.01" height="7.00"/>
<rect x="331.07" y="1554.00" width="9.93" height="7.00"/>
<rect x="787.00" y="1625.00" width="10.76" height="7.00"/>
<rect x="805.82" y="1625.00" width="10.18" height="7.00"/>
<rect x="1021.00" y="1625.00" width="10.76" height="7.00"/>
<rect x="1039.82" y="1625.00" width="10.18" height="7.00"/>
<rect x="1362.00" y="191.00" width="9.60" height="7.00"/>
<rect x="1378.56" y="191.00" width="8.44" height="7.00"/>
</g>
</svg>
</body></html>
